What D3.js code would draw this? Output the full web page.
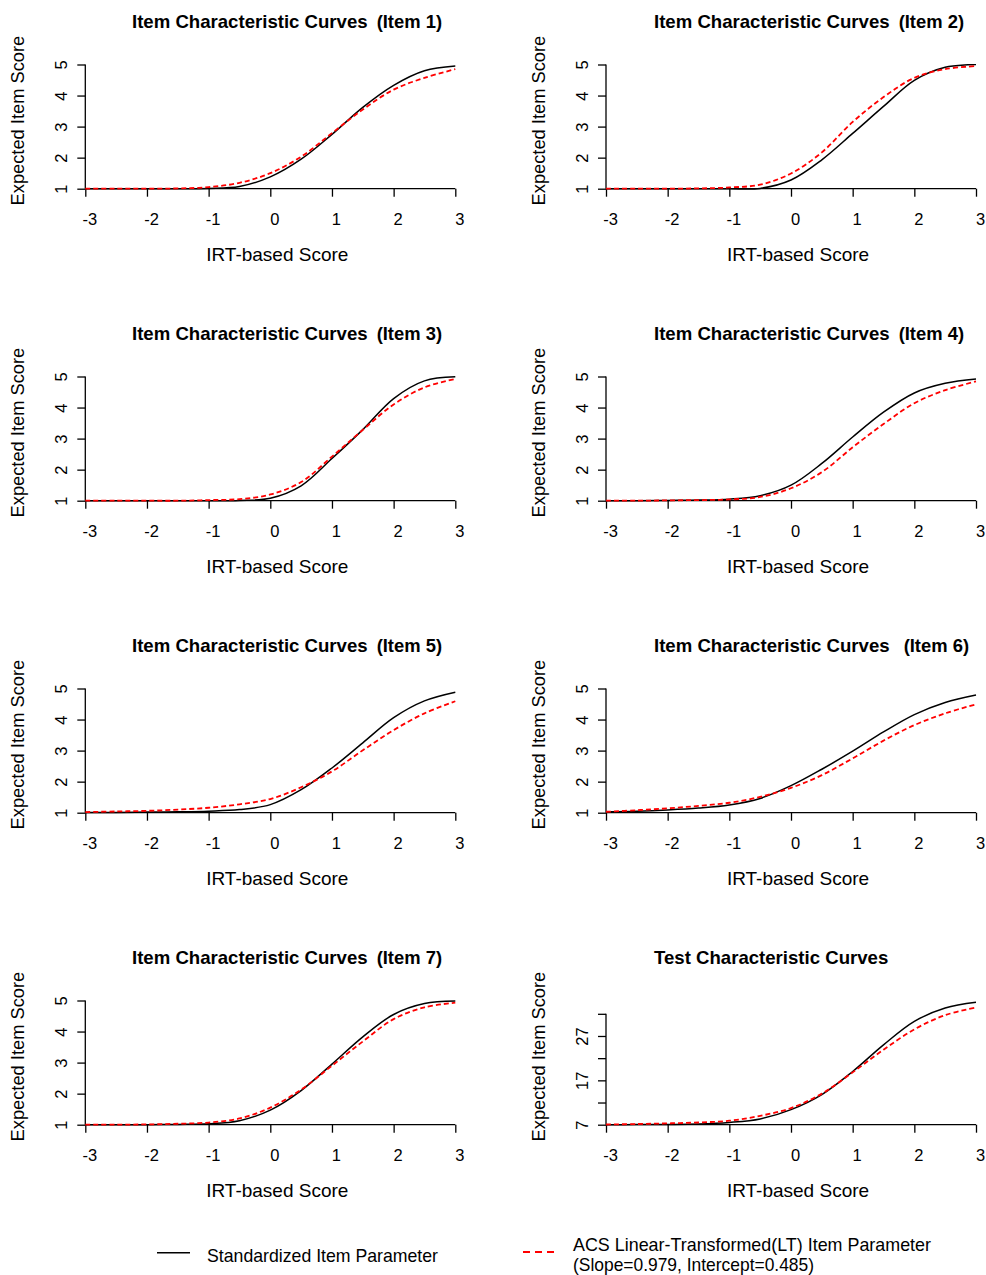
<!DOCTYPE html>
<html>
<head>
<meta charset="utf-8">
<script src="https://cdn.jsdelivr.net/npm/d3@7"></script>
<style>
  html, body { margin: 0; padding: 0; background: #fff; }
  svg { display: block; font-family: "Liberation Sans", Arial, Helvetica, sans-serif; }
  .tick text { font-size: 16.5px !important; font-family: "Liberation Sans", Arial, sans-serif !important; }
</style>
</head>
<body>
<svg id="chart" width="986" height="1275"></svg>
<script>
// ---------------- data ----------------
const theta = [-3, -2.5, -2, -1.5, -1, -0.5, 0, 0.5, 1, 1.5, 2, 2.5, 3];
const xTicks = [-3, -2, -1, 0, 1, 2, 3];

const item1Std = [1, 1, 1, 1, 1.01, 1.07, 1.38, 1.95, 2.75, 3.62, 4.33, 4.8, 4.95];
const item1LT  = [1, 1, 1, 1.01, 1.05, 1.19, 1.5, 2.03, 2.79, 3.55, 4.19, 4.57, 4.85];
const item2Std = [1, 1, 1, 1, 1, 1.01, 1.28, 1.93, 2.78, 3.65, 4.49, 4.91, 5.0];
const item2LT  = [1, 1, 1, 1.01, 1.04, 1.13, 1.49, 2.17, 3.15, 3.95, 4.57, 4.85, 4.95];
const item3Std = [1, 1, 1, 1, 1, 1.01, 1.08, 1.48, 2.36, 3.29, 4.29, 4.86, 4.99];
const item3LT  = [1, 1, 1, 1, 1.02, 1.05, 1.2, 1.6, 2.42, 3.28, 4.1, 4.65, 4.92];
const item4Std = [1, 1, 1.01, 1.02, 1.05, 1.16, 1.5, 2.2, 3.05, 3.85, 4.47, 4.78, 4.92];
const item4LT  = [1, 1, 1.01, 1.02, 1.04, 1.12, 1.4, 1.92, 2.72, 3.47, 4.14, 4.56, 4.84];
const item5Std = [1.01, 1.01, 1.02, 1.03, 1.05, 1.1, 1.26, 1.74, 2.44, 3.25, 4.06, 4.6, 4.88];
const item5LT  = [1.02, 1.04, 1.06, 1.1, 1.16, 1.27, 1.44, 1.82, 2.33, 3.01, 3.66, 4.2, 4.59];
const item6Std = [1.03, 1.05, 1.09, 1.15, 1.25, 1.46, 1.87, 2.4, 2.98, 3.6, 4.16, 4.55, 4.79];
const item6LT  = [1.03, 1.08, 1.14, 1.22, 1.32, 1.51, 1.8, 2.21, 2.75, 3.32, 3.82, 4.2, 4.49];
const item7Std = [1, 1, 1, 1.01, 1.03, 1.13, 1.47, 2.1, 2.95, 3.83, 4.55, 4.9, 4.98];
const item7LT  = [1, 1, 1.01, 1.03, 1.07, 1.2, 1.55, 2.13, 2.9, 3.68, 4.4, 4.78, 4.93];
const testStd  = [7, 7.02, 7.05, 7.15, 7.5, 8.3, 10.4, 13.8, 19.0, 25.0, 30.3, 33.3, 34.6];
const testLT   = [7.05, 7.15, 7.3, 7.5, 7.9, 9.0, 10.75, 14.0, 18.8, 23.9, 28.5, 31.7, 33.4];

const itemYTicks = [1, 2, 3, 4, 5];
const itemYLabels = [1, 2, 3, 4, 5];
const testYTicks = [7, 12, 17, 22, 27, 32];
const testYLabels = [7, 17, 27];

const titleMain = ["Item Characteristic Curves", "Item Characteristic Curves", "Item Characteristic Curves",
                   "Item Characteristic Curves", "Item Characteristic Curves", "Item Characteristic Curves",
                   "Item Characteristic Curves", "Test Characteristic Curves"];
const titleSub = ["(Item 1)", "(Item 2)", "(Item 3)", "(Item 4)", "(Item 5)", "(Item 6)", "(Item 7)", ""];
const titleGap = [1, 1, 1, 1, 1, 2, 1, 0];

const xLabel = "IRT-based Score";
const yLabel = "Expected Item Score";
const legendLabels = ["Standardized Item Parameter",
                      "ACS Linear-Transformed(LT) Item Parameter",
                      "(Slope=0.979, Intercept=0.485)"];

const stdSeries = [item1Std, item2Std, item3Std, item4Std, item5Std, item6Std, item7Std, testStd];
const ltSeries  = [item1LT, item2LT, item3LT, item4LT, item5LT, item6LT, item7LT, testLT];
const yLims = [[1,5],[1,5],[1,5],[1,5],[1,5],[1,5],[1,5],[7,35]];

// ---------------- layout ----------------
const svg = d3.select("#chart");
const cols = [{x0: 85.3, x1: 455.3, titleX: 132}, {x0: 606, x1: 976, titleX: 654}];
const rowStep = 312;
const plotBottom = 188.7, plotTop = 64.5;
const FONT = '"Liberation Sans", Arial, sans-serif';

const line = (x, y) => d3.line()
  .x((d, i) => x(theta[i]))
  .y(d => y(d))
  .curve(d3.curveCatmullRom.alpha(0.5));

stdSeries.forEach((std, i) => {
  const col = i % 2, row = Math.floor(i / 2);
  const c = cols[col];
  const off = row * rowStep;
  const isTest = i === 7;
  const x = d3.scaleLinear().domain([-3, 3]).range([c.x0, c.x1]);
  const y = d3.scaleLinear().domain(yLims[i]).range([plotBottom + off, plotTop + off]);
  const yTicks = isTest ? testYTicks : itemYTicks;
  const yLabs = isTest ? testYLabels : itemYLabels;
  const g = svg.append("g");

  // X axis
  const xg = g.append("g")
    .attr("transform", `translate(0,${y(yLims[i][0])})`)
    .call(d3.axisBottom(x).tickValues(xTicks).tickSize(8).tickSizeOuter(0).tickFormat(d => String(d)));
  xg.attr("font-size", 16.5).attr("font-family", FONT);
  xg.select(".domain").remove();
  xg.append("line")
    .attr("x1", x(xTicks[0])).attr("x2", x(xTicks[xTicks.length - 1]))
    .attr("y1", 0).attr("y2", 0).attr("stroke", "#000").attr("stroke-width", 1.3);
  xg.selectAll(".tick line").attr("stroke", "#000").attr("stroke-width", 1.3);
  xg.selectAll(".tick text")
    .attr("y", 36).attr("dy", 0).attr("dx", 4)
    .attr("fill", "#000").attr("font-size", 16.5);

  // Y axis
  const yg = g.append("g")
    .attr("transform", `translate(${x(-3)},0)`)
    .call(d3.axisLeft(y).tickValues(yTicks).tickSize(8).tickSizeOuter(0)
      .tickFormat(d => yLabs.includes(d) ? String(d) : ""));
  yg.attr("font-size", 16.5).attr("font-family", FONT);
  yg.select(".domain").remove();
  yg.append("line")
    .attr("x1", 0).attr("x2", 0)
    .attr("y1", y(yTicks[0])).attr("y2", y(yTicks[yTicks.length - 1]))
    .attr("stroke", "#000").attr("stroke-width", 1.3);
  yg.selectAll(".tick line").attr("stroke", "#000").attr("stroke-width", 1.3);
  yg.selectAll(".tick text")
    .attr("x", 0).attr("y", 0).attr("dy", 0)
    .attr("transform", "translate(-18.5,0) rotate(-90)")
    .attr("text-anchor", "middle")
    .attr("fill", "#000").attr("font-size", 16.5);

  // Curves
  g.append("path").datum(std)
    .attr("d", line(x, y))
    .attr("fill", "none").attr("stroke", "#000").attr("stroke-width", 1.5);
  g.append("path").datum(ltSeries[i])
    .attr("d", line(x, y))
    .attr("fill", "none").attr("stroke", "#ff0000").attr("stroke-width", 1.8)
    .attr("stroke-dasharray", "5,3");

  // Title
  const t = g.append("text")
    .attr("x", c.titleX).attr("y", 28 + off)
    .attr("font-weight", "bold").attr("fill", "#000");
  t.append("tspan").style("font-size", "18.6px").text(titleMain[i]);
  if (titleSub[i]) {
    t.append("tspan").style("font-size", "18.4px")
      .attr("dx", 9 + 5 * (titleGap[i] - 1))
      .text(titleSub[i]);
  }

  // Axis titles
  g.append("text")
    .attr("x", (c.x0 + c.x1) / 2 + 7).attr("y", 261 + off)
    .attr("text-anchor", "middle").style("font-size", "19px").attr("fill", "#000")
    .text(xLabel);
  g.append("text")
    .attr("transform", `translate(${c.x0 - 61.5},${(plotTop + plotBottom) / 2 - 6 + off}) rotate(-90)`)
    .attr("text-anchor", "middle").style("font-size", "18.3px").attr("fill", "#000")
    .text(yLabel);
});

// ---------------- legend ----------------
const lg = svg.append("g");
lg.append("line").attr("x1", 157).attr("x2", 190).attr("y1", 1252.7).attr("y2", 1252.7)
  .attr("stroke", "#000").attr("stroke-width", 1.5);
lg.append("text").attr("x", 207).attr("y", 1262)
  .style("font-size", "19px").attr("textLength", 231).attr("lengthAdjust", "spacingAndGlyphs")
  .attr("fill", "#000").text(legendLabels[0]);
lg.append("line").attr("x1", 523).attr("x2", 556).attr("y1", 1252).attr("y2", 1252)
  .attr("stroke", "#ff0000").attr("stroke-width", 1.8).attr("stroke-dasharray", "7,5");
lg.append("text").attr("x", 573).attr("y", 1251.3)
  .style("font-size", "18.5px").attr("textLength", 358).attr("lengthAdjust", "spacingAndGlyphs")
  .attr("fill", "#000").text(legendLabels[1]);
lg.append("text").attr("x", 573).attr("y", 1270.7)
  .style("font-size", "18.5px").attr("textLength", 241).attr("lengthAdjust", "spacingAndGlyphs")
  .attr("fill", "#000").text(legendLabels[2]);
</script>
</body>
</html>
